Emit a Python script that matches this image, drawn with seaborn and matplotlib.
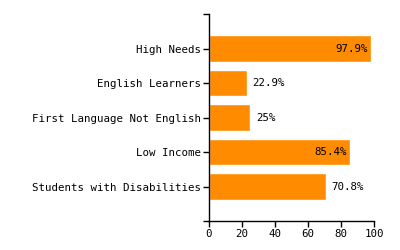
import matplotlib
matplotlib.use("Agg")
import matplotlib.pyplot as plt
import seaborn as sns
import pandas as pd

categories = ["High Needs", "English Learners", "First Language Not English",
              "Low Income", "Students with Disabilities"]
values = [97.9, 22.9, 25.0, 85.4, 70.8]
labels = ["97.9%", "22.9%", "25%", "85.4%", "70.8%"]
xticks = [0, 20, 40, 60, 80, 100]

sns.set_style("white")
plt.rcParams['font.family'] = ['DejaVu Sans Mono']

df = pd.DataFrame({"cat": categories, "val": values})
fig = plt.figure(figsize=(4, 2.5), dpi=100)
ax = fig.add_axes([0.5225, 0.116, 0.4125, 0.828])
sns.barplot(data=df, x="val", y="cat", color="#FF8C00", saturation=1,
            width=0.78, ax=ax, order=categories)
ax.set_xlim(0, 100)
ax.set_ylim(5, -1)
ax.set_xticks(xticks)
ax.set_xticklabels([str(t) for t in xticks])
ax.set_yticks([-1, 5], minor=True)
ax.set_xlabel("")
ax.set_ylabel("")
for s in ["top", "right"]:
    ax.spines[s].set_visible(False)
for s in ["left", "bottom"]:
    ax.spines[s].set_color("black")
    ax.spines[s].set_linewidth(1)
ax.tick_params(axis="both", which="both", length=4, width=1, color="black",
               labelsize=7.75, labelcolor="black", pad=2)
ax.tick_params(axis="y", which="both", left=True)
ax.tick_params(axis="x", bottom=True)

for i, (v, lab) in enumerate(zip(values, labels)):
    if v > 80:
        ax.text(v - 1.8, i, lab, ha="right", va="center", fontsize=7.75, color="black")
    else:
        ax.text(v + 3.5, i, lab, ha="left", va="center", fontsize=7.75, color="black")

fig.savefig("out.png", dpi=100)
